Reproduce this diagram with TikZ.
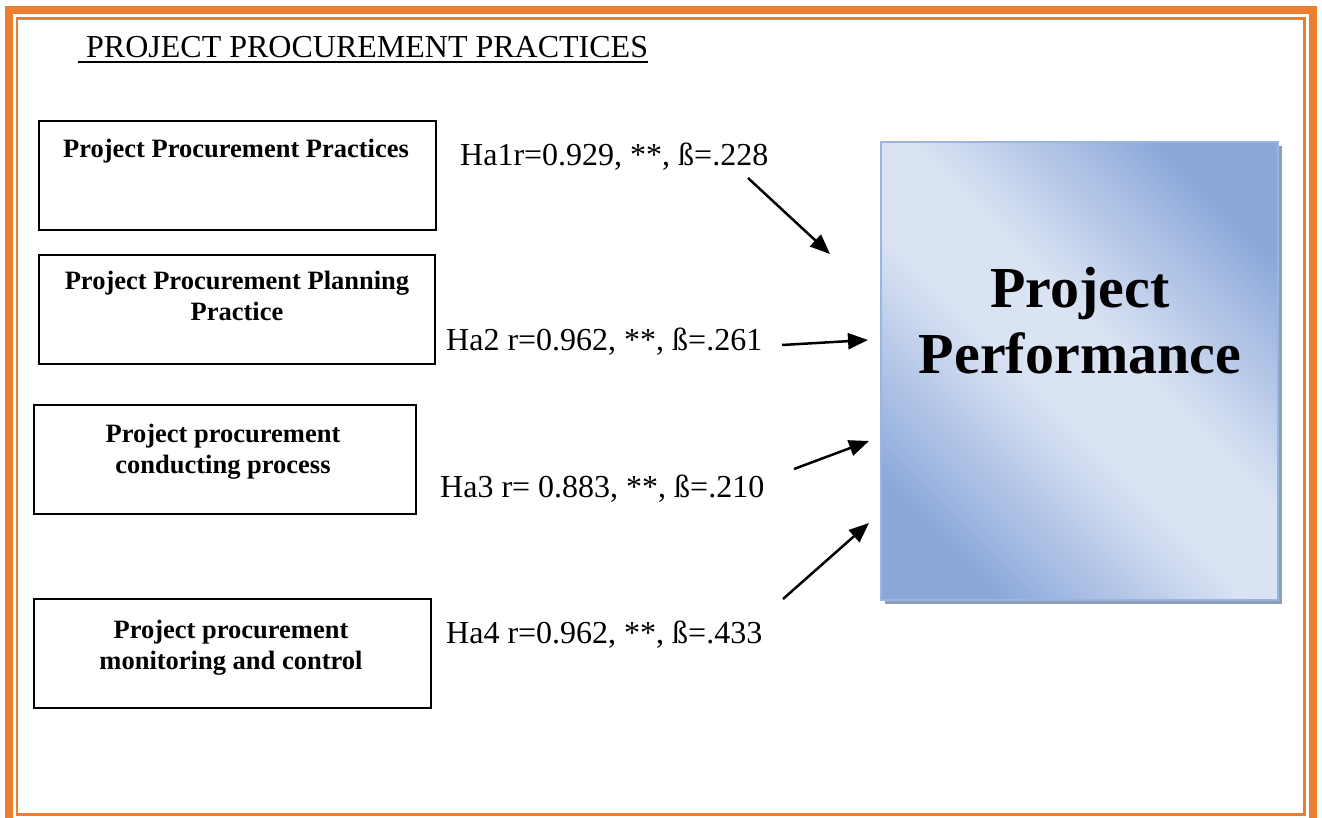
\documentclass[tikz,border=0pt]{standalone}
\usepackage{fontspec}
\setmainfont{Liberation Serif}
\usetikzlibrary{arrows.meta}
\definecolor{orangeb}{HTML}{ED7D31}
\definecolor{pdark}{HTML}{8AA7DA}
\definecolor{plight}{HTML}{DAE3F3}
\definecolor{pedge}{HTML}{9AB5E0}
\definecolor{pshadow}{HTML}{8E9DB6}
\pgfdeclareverticalshading{ppshade}{100bp}{color(0bp)=(pdark); color(24bp)=(pdark); color(45bp)=(plight); color(55bp)=(plight); color(76bp)=(pdark); color(100bp)=(pdark)}
\begin{document}
\begin{tikzpicture}[x=1pt,y=-1pt,
  inbox/.style={draw=black, line width=2pt, inner sep=0pt, minimum height=109pt},
  boxtext/.style={inner sep=0pt, anchor=north, align=center, font=\bfseries\fontsize{26.5}{31}\selectfont},
  hlabel/.style={inner sep=0pt, anchor=base west, font=\fontsize{32}{36}\selectfont},
  link/.style={line width=2.5pt, -{Triangle[length=20pt,width=16pt]}}
]
\useasboundingbox[fill=white] (0,0) rectangle (1322,818);
% page border
\draw[orangeb, line width=8pt] (9,10.5) rectangle (1313,840);
\draw[orangeb, line width=2.5pt] (17,18.5) rectangle (1304.5,814.5);
% title
\node[inner sep=0pt, anchor=base west, font=\fontsize{32}{36}\selectfont] (title) at (86,58) {PROJECT PROCUREMENT PRACTICES};
\draw[line width=1.8pt] ([xshift=-8pt,yshift=-4pt]title.base west) -- ([yshift=-4pt]title.base east);
% left boxes
\node[inbox, minimum width=397pt] (b1) at (237.5,175.5) {};
\node[inbox, minimum width=396pt] (b2) at (237,309.5) {};
\node[inbox, minimum width=382pt] (b3) at (225,459.5) {};
\node[inbox, minimum width=397pt] (b4) at (232.5,653.5) {};
\node[boxtext] (t1) at (236,139) {Project Procurement Practices};
\node[boxtext] (t2) at (237,271) {Project Procurement Planning\\Practice};
\node[boxtext] (t3) at (223,424) {Project procurement\\conducting process};
\node[boxtext] (t4) at (231,620) {Project procurement\\monitoring and control};
% performance box
\fill[pshadow] (885,146) rectangle (1282,604);
\node[draw=pedge, line width=1.5pt, inner sep=0pt, minimum width=397pt, minimum height=458pt,
  shading=ppshade, shading angle=-45] (pp) at (1079.5,371) {};
\node[inner sep=0pt, anchor=north, align=center, font=\bfseries\fontsize{58}{66}\selectfont] (ppt) at (1080,267) {Project\\Performance};
% labels
\node[hlabel] (h1) at (460,166) {Ha1r=0.929, **, ß=.228};
\node[hlabel] (h2) at (446,350) {Ha2 r=0.962, **, ß=.261};
\node[hlabel] (h3) at (440,497) {Ha3 r= 0.883, **, ß=.210};
\node[hlabel] (h4) at (446,643) {Ha4 r=0.962, **, ß=.433};
% arrows
\coordinate (s1) at (748,178); \coordinate (e1) at (830,254);
\coordinate (s2) at (782,345); \coordinate (e2) at (868,340);
\coordinate (s3) at (794,469); \coordinate (e3) at (869,441);
\coordinate (s4) at (783,599); \coordinate (e4) at (869,523);
\draw[link] (s1) -- (e1);
\draw[link] (s2) -- (e2);
\draw[link] (s3) -- (e3);
\draw[link] (s4) -- (e4);
\end{tikzpicture}
\end{document}
